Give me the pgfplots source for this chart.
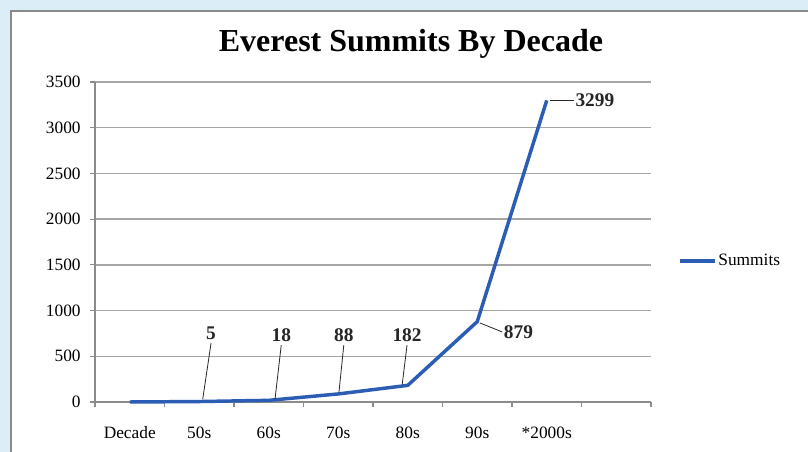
\documentclass[border=0pt]{standalone}
\usepackage{pgfplots}
\pgfplotsset{compat=1.18}
\usepackage{fontspec}
\setmainfont{Liberation Serif}

\definecolor{bgblue}{HTML}{DBEEF7}
\definecolor{framegray}{HTML}{8A8A8A}
\definecolor{gridgray}{HTML}{A6A6A6}
\definecolor{axisgray}{HTML}{8C8C8C}
\definecolor{summitblue}{HTML}{2C5DB4}

\begin{document}
\begin{tikzpicture}[x=0.75pt,y=0.75pt]
  % panel
  \fill[bgblue] (0,0) rectangle (808,452);
  \fill[white] (11,0) rectangle (808,441);
  \draw[framegray, line width=2.2pt] (11,0) -- (11,441) -- (808,441);

  \node[anchor=base, font=\bfseries\fontsize{24}{28}\selectfont]
    at (411,400) {Everest Summits By Decade};

  \begin{axis}[
      at={(71.25pt,37.5pt)}, anchor=south west,
      width=417pt, height=240pt, scale only axis,
      xmin=-0.5, xmax=7.5, ymin=0, ymax=3500,
      xtick={-0.5,0.5,...,7.5},
      x tick label as interval,
      xticklabels={Decade,50s,60s,70s,80s,90s,*2000s,{}},
      ytick={0,500,...,3500},
      axis x line*=bottom, axis y line*=left,
      ymajorgrids, grid style={gridgray, line width=1.1pt},
      tick align=outside, major tick length=3.5pt,
      tick style={axisgray, line width=0.8pt},
      axis line style={axisgray, line width=1.1pt},
      tick label style={font=\fontsize{13}{15}\selectfont},
      /pgf/number format/assume math mode=true,
      scaled y ticks=false,
      yticklabel style={/pgf/number format/1000 sep={}, xshift=-3.75pt},
      xticklabel style={yshift=-11.5pt},
      legend style={at={(1.0486,0.4406)}, anchor=west, draw=none, fill=none,
        inner sep=0pt, nodes={inner sep=1pt}, font=\fontsize{13}{15}\selectfont},
      legend image code/.code={\draw[#1] (0pt,0pt) -- (26.5pt,0pt);},
      clip=false,
    ]
    \addplot[summitblue, line width=2.6pt, mark=none, line join=round]
      coordinates {(0,0) (1,5) (2,18) (3,88) (4,182) (5,879) (6,3299)};
    \addlegendentry{Summits}

    \begin{scope}[black!85, line width=0.6pt,
        every node/.style={font=\bfseries\fontsize{14.5}{17}\selectfont, inner sep=2pt}]
      \draw (axis cs:1.05,30) -- (axis cs:1.17,645) node[anchor=south] {5};
      \draw (axis cs:2.09,30) -- (axis cs:2.18,623) node[anchor=south] {18};
      \draw (axis cs:3.01,105) -- (axis cs:3.08,623) node[anchor=south] {88};
      \draw (axis cs:3.92,190) -- (axis cs:3.99,623) node[anchor=south] {182};
      \draw (axis cs:5.04,864) -- (axis cs:5.36,766) node[anchor=west, inner sep=1pt] {879};
      \draw (axis cs:6.05,3303) -- (axis cs:6.39,3303) node[anchor=west, inner sep=1pt] {3299};
    \end{scope}
  \end{axis}

  \pgfresetboundingbox
  \path[use as bounding box] (0,0) rectangle (808,452);
\end{tikzpicture}
\end{document}
